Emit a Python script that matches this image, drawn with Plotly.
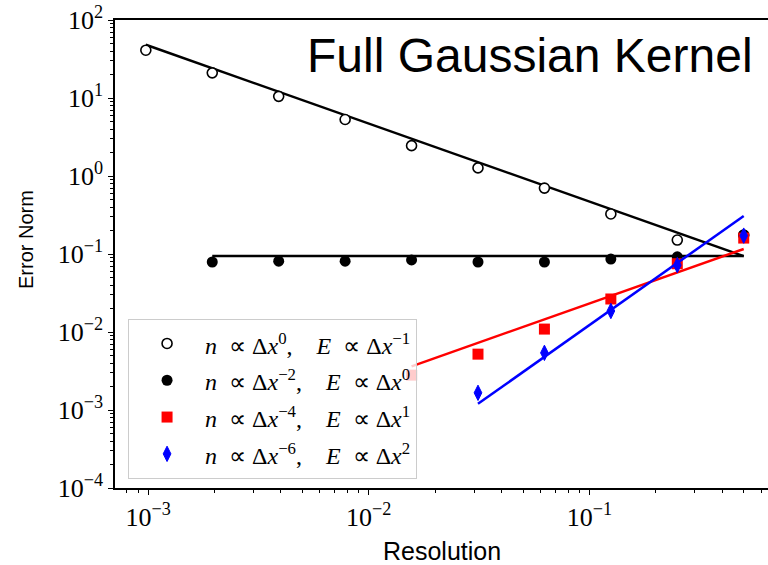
import plotly.graph_objects as go

# Grid resolutions (Δx) used in the convergence study
resolution = [0.0009765625, 0.001953125, 0.00390625, 0.0078125, 0.015625,
              0.03125, 0.0625, 0.125, 0.25, 0.5]

# Error norms for each particle-count scaling
err_n0 = [41.0, 21.0, 10.5, 5.3, 2.45, 1.27, 0.70, 0.326, 0.151, 0.175]
err_n2 = [0.079, 0.081, 0.081, 0.084, 0.079, 0.079, 0.086, 0.092, 0.175]
err_n4 = [0.0028, 0.0052, 0.0109, 0.0265, 0.075, 0.16]
err_n6 = [0.00166, 0.0054, 0.0186, 0.072, 0.172]

# Reference slopes (end points of each power-law guide line)
ref_x_m1 = [0.0009765625, 0.5]
ref_y_m1 = [48.1, 0.094]
ref_x_0 = [0.001953125, 0.5]
ref_y_0 = [0.094, 0.094]
ref_x_1 = [0.015625, 0.5]
ref_y_1 = [0.00363, 0.116]
ref_x_2 = [0.03125, 0.5]
ref_y_2 = [0.0012, 0.307]

EN = "\u2002"   # en space
EM = "\u2003"   # em space
labels = [
    f"<i>n</i>{EN}∝ Δ<i>x</i><sup>0</sup>,{EM}<i>E</i>{EN}∝ Δ<i>x</i><sup>−1</sup>",
    f"<i>n</i>{EN}∝ Δ<i>x</i><sup>−2</sup>,{EM}<i>E</i>{EN}∝ Δ<i>x</i><sup>0</sup>",
    f"<i>n</i>{EN}∝ Δ<i>x</i><sup>−4</sup>,{EM}<i>E</i>{EN}∝ Δ<i>x</i><sup>1</sup>",
    f"<i>n</i>{EN}∝ Δ<i>x</i><sup>−6</sup>,{EM}<i>E</i>{EN}∝ Δ<i>x</i><sup>2</sup>",
]

y_ticks = [1e-4, 1e-3, 1e-2, 1e-1, 1e0, 1e1, 1e2]
y_ticktext = ["10<sup>−4</sup>", "10<sup>−3</sup>", "10<sup>−2</sup>", "10<sup>−1</sup>",
              "10<sup>0</sup>", "10<sup>1</sup>", "10<sup>2</sup>"]
x_ticks = [1e-3, 1e-2, 1e-1]
x_ticktext = ["10<sup>−3</sup>", "10<sup>−2</sup>", "10<sup>−1</sup>"]

res_n2 = resolution[len(resolution) - len(err_n2):]
res_n4 = resolution[len(resolution) - len(err_n4):]
res_n6 = resolution[len(resolution) - len(err_n6):]

LW = 2.5


def wrap(t):
    return '<span style="font-size:24px">' + t + "</span>"


fig = go.Figure()

# guide lines
for xs, ys, col in [(ref_x_m1, ref_y_m1, "black"), (ref_x_0, ref_y_0, "black")]:
    fig.add_trace(go.Scatter(x=xs, y=ys, mode="lines", line=dict(color=col, width=LW),
                             showlegend=False, hoverinfo="skip"))

fig.add_trace(go.Scatter(x=resolution, y=err_n0, mode="markers", name=wrap(labels[0]),
                         marker=dict(symbol="circle", size=10, color="white",
                                     line=dict(color="black", width=1.6))))
fig.add_trace(go.Scatter(x=res_n2, y=err_n2, mode="markers", name=wrap(labels[1]),
                         marker=dict(symbol="circle", size=11, color="black",
                                     line=dict(width=0))))

fig.add_trace(go.Scatter(x=ref_x_1, y=ref_y_1, mode="lines", line=dict(color="#ff0000", width=LW),
                         showlegend=False, hoverinfo="skip"))
fig.add_trace(go.Scatter(x=res_n4, y=err_n4, mode="markers", name=wrap(labels[2]),
                         marker=dict(symbol="square", size=11, color="#ff0000",
                                     line=dict(width=0))))

fig.add_trace(go.Scatter(x=ref_x_2, y=ref_y_2, mode="lines", line=dict(color="#0000ff", width=LW),
                         showlegend=False, hoverinfo="skip"))
fig.add_trace(go.Scatter(x=res_n6, y=err_n6, mode="markers", name=wrap(labels[3]),
                         marker=dict(symbol="diamond-tall", size=11, color="#0000ff",
                                     line=dict(color="#0000ff", width=1))))

minor_y = [m * 10.0 ** k for k in range(-4, 2) for m in range(2, 10)]
minor_x = [m * 10.0 ** k for k in range(-4, 0) for m in range(2, 10)]

tickfont = dict(family="Liberation Serif", size=26, color="black")

fig.update_xaxes(type="log", range=[-3.15, -0.191], showgrid=False, zeroline=False,
                 showline=True, linecolor="black", linewidth=1.5, mirror=True,
                 ticks="outside", ticklen=5, tickwidth=1.3, tickcolor="black",
                 tickmode="array", tickvals=x_ticks, ticktext=x_ticktext, tickfont=tickfont,
                 minor=dict(tickmode="array", tickvals=minor_x, ticks="outside",
                            ticklen=3, tickwidth=1, tickcolor="black", showgrid=False))
fig.update_yaxes(type="log", range=[-4, 2], showgrid=False, zeroline=False,
                 showline=True, linecolor="black", linewidth=1.5, mirror=False,
                 ticks="outside", ticklen=5, tickwidth=1.3, tickcolor="black",
                 tickmode="array", tickvals=y_ticks, ticktext=y_ticktext, tickfont=tickfont,
                 minor=dict(tickmode="array", tickvals=minor_y, ticks="outside",
                            ticklen=3, tickwidth=1, tickcolor="black", showgrid=False))

fig.add_annotation(text="Full Gaussian Kernel", xref="paper", yref="paper",
                   x=0.98, y=0.924, xanchor="right", yanchor="middle", showarrow=False,
                   font=dict(family="Liberation Sans", size=48, color="black"))
fig.add_annotation(text="Resolution", xref="paper", yref="paper",
                   x=0.5008, y=-0.1346, xanchor="center", yanchor="middle", showarrow=False,
                   font=dict(family="Liberation Sans", size=25, color="black"))
fig.add_annotation(text="Error Norm", xref="paper", yref="paper", textangle=-90,
                   x=-0.1363, y=0.532, xanchor="center", yanchor="middle", showarrow=False,
                   font=dict(family="Liberation Sans", size=20, color="black"))

fig.update_layout(
    width=768, height=565,
    margin=dict(l=115, r=0, t=20, b=77),
    paper_bgcolor="white", plot_bgcolor="white",
    showlegend=True,
    legend=dict(x=0.02, y=0.361, xanchor="left", yanchor="top",
                bgcolor="rgba(255,255,255,0.8)", bordercolor="#cccccc", borderwidth=1,
                font=dict(family="Liberation Serif", size=26, color="black"),
                itemwidth=66),
)

fig.write_html("out.html")
